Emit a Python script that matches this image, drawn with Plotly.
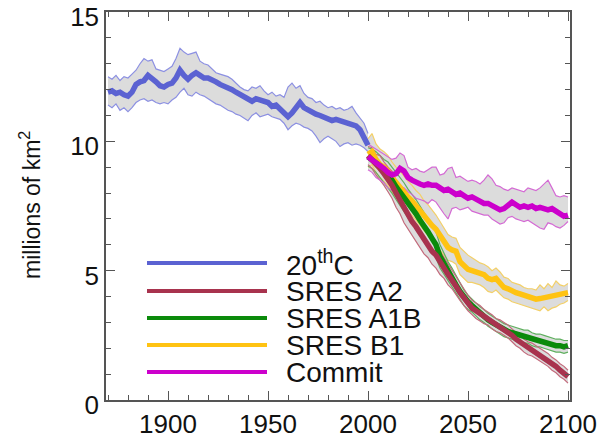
import plotly.graph_objects as go

# ---------------- data ----------------
years_20c = list(range(1870, 2001, 2))
mean_20c = [11.9, 11.95, 11.85, 11.9, 11.8, 11.75, 11.9, 12.2, 12.3, 12.35, 12.55, 12.45, 12.3, 12.15, 12.1,
            12.2, 12.25, 12.45, 12.75, 12.55, 12.4, 12.55, 12.65, 12.55, 12.45, 12.45, 12.4, 12.3, 12.2, 12.15,
            12.05, 12.0, 11.9, 11.8, 11.7, 11.6, 11.55, 11.65, 11.6, 11.55, 11.5, 11.35, 11.4, 11.25, 11.1,
            10.95, 11.1, 11.35, 11.5, 11.3, 11.2, 11.1, 11.05, 11.0, 10.95, 10.85, 10.8, 10.85, 10.8, 10.75,
            10.7, 10.65, 10.6, 10.45, 10.1, 9.85]
upper_20c = [12.5, 12.4, 12.55, 12.35, 12.5, 12.45, 12.6, 12.75, 13.0, 13.2, 13.1, 13.15, 12.8, 12.75, 12.7,
             12.8, 12.9, 13.2, 13.6, 13.45, 13.35, 13.4, 13.45, 13.1, 13.0, 12.95, 12.8, 12.65, 12.6, 12.55,
             12.5, 12.4, 12.25, 12.1, 12.0, 11.95, 12.1, 12.05, 12.15, 11.95, 11.8, 11.9, 11.75, 11.8, 11.7,
             12.1, 12.25, 12.05, 12.15, 11.85, 11.7, 11.65, 11.5, 11.55, 11.4, 11.3, 11.35, 11.25, 11.3, 11.2,
             11.25, 11.35, 11.1, 10.9, 10.7, 10.3]
lower_20c = [11.4, 11.3, 11.45, 11.2, 11.3, 11.15, 11.3, 11.5, 11.6, 11.65, 11.55, 11.6, 11.5, 11.45, 11.5,
             11.45, 11.6, 11.7, 11.9, 12.05, 11.8, 11.75, 11.9, 11.8, 11.75, 11.65, 11.55, 11.45, 11.4, 11.3,
             11.2, 11.15, 11.05, 11.0, 10.9, 10.8, 11.0, 11.1, 10.95, 11.0, 11.05, 10.95, 10.9, 10.85, 10.7,
             10.45, 10.6, 10.7, 10.65, 10.55, 10.5, 10.4, 10.2, 9.95, 10.1, 10.2, 10.1, 10.0, 9.8, 9.9,
             9.95, 9.85, 9.9, 9.85, 9.75, 9.6]

years_proj = list(range(2000, 2101, 2))

mean_a2 = [9.45, 9.3, 9.1, 8.95, 8.75, 8.55, 8.3, 8.0, 7.7, 7.4, 7.15, 6.9, 6.7, 6.45, 6.2, 6.0, 5.75, 5.6,
           5.3, 5.1, 4.85, 4.65, 4.4, 4.15, 3.95, 3.75, 3.55, 3.45, 3.35, 3.25, 3.15, 3.0, 2.9, 2.85, 2.75,
           2.65, 2.5, 2.35, 2.25, 2.1, 2.0, 1.95, 1.85, 1.75, 1.65, 1.55, 1.4, 1.3, 1.15, 1.05, 0.9]
upper_a2 = [9.8, 9.75, 9.5, 9.45, 9.2, 9.0, 8.85, 8.5, 8.3, 7.95, 7.7, 7.5, 7.3, 7.0, 6.7, 6.45, 6.3, 6.1,
            5.75, 5.5, 5.3, 5.0, 4.75, 4.5, 4.25, 4.05, 3.85, 3.75, 3.65, 3.5, 3.4, 3.3, 3.15, 3.1, 3.0,
            2.9, 2.75, 2.6, 2.55, 2.35, 2.25, 2.2, 2.1, 2.0, 1.9, 1.8, 1.65, 1.55, 1.4, 1.3, 1.15]
lower_a2 = [9.1, 8.95, 8.7, 8.5, 8.3, 8.05, 7.8, 7.45, 7.2, 6.85, 6.6, 6.35, 6.1, 5.9, 5.65, 5.5, 5.25, 5.1,
            4.85, 4.7, 4.45, 4.3, 4.05, 3.85, 3.65, 3.45, 3.3, 3.15, 3.05, 2.95, 2.9, 2.75, 2.65, 2.6, 2.5,
            2.4, 2.25, 2.1, 2.0, 1.85, 1.75, 1.7, 1.6, 1.5, 1.4, 1.3, 1.15, 1.05, 0.9, 0.8, 0.65]

mean_a1b = [9.4, 9.3, 9.2, 9.05, 8.85, 8.7, 8.5, 8.25, 8.05, 7.85, 7.6, 7.4, 7.2, 6.95, 6.75, 6.5, 6.25, 6.0,
            5.55, 5.25, 5.0, 4.75, 4.45, 4.2, 3.95, 3.8, 3.65, 3.5, 3.35, 3.25, 3.1, 3.0, 2.9, 2.8, 2.7,
            2.65, 2.6, 2.55, 2.5, 2.45, 2.45, 2.35, 2.3, 2.3, 2.25, 2.2, 2.15, 2.1, 2.1, 2.05, 2.1]
upper_a1b = [9.75, 9.7, 9.6, 9.45, 9.3, 9.2, 9.0, 8.8, 8.6, 8.4, 8.15, 7.95, 7.75, 7.5, 7.25, 7.0, 6.75, 6.5,
             6.0, 5.65, 5.35, 5.1, 4.8, 4.5, 4.25, 4.05, 3.9, 3.75, 3.6, 3.5, 3.35, 3.25, 3.15, 3.05, 2.95,
             2.9, 2.85, 2.8, 2.75, 2.7, 2.7, 2.6, 2.55, 2.55, 2.5, 2.45, 2.4, 2.35, 2.35, 2.3, 2.3]
lower_a1b = [9.05, 8.95, 8.8, 8.6, 8.4, 8.2, 8.0, 7.75, 7.5, 7.3, 7.05, 6.85, 6.65, 6.4, 6.2, 6.0, 5.75, 5.5,
             5.1, 4.85, 4.6, 4.4, 4.1, 3.9, 3.65, 3.5, 3.4, 3.25, 3.1, 3.0, 2.85, 2.75, 2.65, 2.55, 2.45,
             2.4, 2.35, 2.3, 2.25, 2.2, 2.2, 2.1, 2.05, 2.05, 2.0, 1.95, 1.9, 1.85, 1.85, 1.8, 1.85]

mean_b1 = [9.5, 9.6, 9.3, 9.1, 9.0, 8.85, 8.6, 8.4, 8.2, 8.0, 7.85, 7.7, 7.5, 7.3, 7.1, 6.95, 6.75, 6.6,
           6.35, 6.1, 5.9, 5.8, 5.75, 5.35, 5.2, 5.05, 5.0, 4.95, 4.9, 4.85, 4.7, 4.65, 4.7, 4.55, 4.35,
           4.3, 4.2, 4.15, 4.1, 4.05, 4.0, 3.95, 3.9, 3.92, 3.95, 4.0, 4.0, 4.05, 4.05, 4.1, 4.15]
upper_b1 = [10.1, 10.3, 9.9, 9.7, 9.6, 9.45, 9.2, 9.0, 8.85, 8.65, 8.45, 8.3, 8.1, 7.95, 7.7, 7.55, 7.35, 7.15,
            6.9, 6.65, 6.4, 6.3, 6.25, 5.9, 5.75, 5.6, 5.5, 5.4, 5.3, 5.25, 5.15, 5.0, 5.1, 4.95, 4.75,
            4.7, 4.55, 4.5, 4.45, 4.35, 4.3, 4.3, 4.25, 4.45, 4.3, 4.5, 4.35, 4.6, 4.45, 4.4, 4.5]
lower_b1 = [9.0, 9.1, 8.8, 8.6, 8.45, 8.3, 8.05, 7.85, 7.65, 7.45, 7.3, 7.15, 6.95, 6.75, 6.55, 6.35, 6.15, 6.0,
            5.8, 5.6, 5.4, 5.35, 5.25, 4.85, 4.7, 4.55, 4.55, 4.5, 4.45, 4.35, 4.2, 4.15, 4.25, 4.1, 3.95,
            3.9, 3.8, 3.75, 3.7, 3.65, 3.6, 3.55, 3.5, 3.45, 3.6, 3.45, 3.55, 3.6, 3.7, 3.75, 3.85]

mean_commit = [9.4, 9.3, 9.15, 9.05, 8.95, 8.8, 8.7, 8.75, 8.95, 8.85, 8.6, 8.5, 8.4, 8.35, 8.3, 8.35, 8.3,
               8.3, 8.2, 8.1, 8.15, 8.05, 7.95, 8.0, 7.9, 7.8, 7.85, 7.75, 7.65, 7.6, 7.6, 7.5, 7.45, 7.35,
               7.4, 7.55, 7.65, 7.55, 7.45, 7.5, 7.45, 7.5, 7.4, 7.45, 7.4, 7.35, 7.4, 7.3, 7.2, 7.1, 7.15]
upper_commit = [9.9, 9.8, 9.7, 9.6, 9.5, 9.4, 9.3, 9.35, 9.55, 9.45, 9.0, 8.9, 8.95, 8.85, 8.8, 8.9, 9.0,
                9.0, 8.7, 8.75, 8.95, 9.0, 8.6, 8.65, 8.55, 8.45, 8.5, 8.45, 8.35, 8.5, 8.7, 8.55, 8.3, 8.25,
                8.15, 8.1, 8.2, 8.15, 8.1, 8.05, 8.2, 8.15, 8.1, 8.2, 8.35, 8.5, 8.2, 7.9, 7.85, 7.9, 7.85]
lower_commit = [8.9, 8.8, 8.6, 8.5, 8.4, 8.2, 8.1, 8.1, 8.25, 8.2, 8.05, 7.95, 7.8, 7.75, 7.7, 7.6, 7.75,
                7.65, 7.4, 7.2, 7.0, 7.4, 7.45, 7.35, 7.4, 7.45, 7.3, 7.25, 7.2, 7.15, 7.15, 7.0, 6.9, 6.8,
                6.85, 7.05, 7.1, 7.0, 6.95, 6.9, 6.95, 6.85, 6.75, 6.65, 6.6, 6.85, 6.8, 6.7, 6.65, 6.75, 6.9]

labels = ["20<sup>th</sup>C", "SRES A2", "SRES A1B", "SRES B1", "Commit"]
y_title = "millions of km<sup>2</sup>"
x_ticks = [1900, 1950, 2000, 2050, 2100]
y_ticks = [0, 5, 10, 15]

# ---------------- styling ----------------
FONT = "Liberation Sans, Arial, Helvetica, sans-serif"
FILL = "#dcdcdc"
series = [
    (0, years_20c, mean_20c, upper_20c, lower_20c, "#5b62d2", "#8c90e2"),
    (3, years_proj, mean_b1, upper_b1, lower_b1, "#ffc312", "#f3d068"),
    (2, years_proj, mean_a1b, upper_a1b, lower_a1b, "#0b8a0b", "#5fb05f"),
    (1, years_proj, mean_a2, upper_a2, lower_a2, "#a8334e", "#c36a7c"),
    (4, years_proj, mean_commit, upper_commit, lower_commit, "#cc00cc", "#d46ad4"),
]
legend_colors = ["#5b62d2", "#a8334e", "#0b8a0b", "#ffc312", "#cc00cc"]

fig = go.Figure()

for _, yrs, m, up, lo, c, tc in series:
    fig.add_trace(go.Scatter(x=list(yrs) + list(yrs)[::-1], y=list(up) + list(lo)[::-1],
                             fill="toself", fillcolor=FILL, line=dict(width=0),
                             mode="lines", hoverinfo="skip", showlegend=False))
for _, yrs, m, up, lo, c, tc in series:
    for arr in (up, lo):
        fig.add_trace(go.Scatter(x=yrs, y=arr, mode="lines",
                                 line=dict(color=tc, width=1.2), showlegend=False))
for i, yrs, m, up, lo, c, tc in series:
    fig.add_trace(go.Scatter(x=yrs, y=m, mode="lines", name=labels[i],
                             line=dict(color=c, width=5.5), showlegend=False))

# plot area in page pixels: x 106..570, y 12..400
ax0, ay0, pw, ph = 106, 12, 464, 388
leg_y = [263, 291, 318, 345, 372]
for k, lab in enumerate(labels):
    yp = (ay0 + ph - leg_y[k]) / ph
    fig.add_shape(type="line", xref="paper", yref="paper",
                  x0=(147 - ax0) / pw, x1=(267 - ax0) / pw, y0=yp, y1=yp,
                  line=dict(color=legend_colors[k], width=4))
    fig.add_annotation(xref="paper", yref="paper", x=(284 - ax0) / pw, y=yp,
                       text=lab, showarrow=False, xanchor="left", yanchor="middle",
                       font=dict(family=FONT, size=28, color="#111"))

# y-axis title placed as rotated text
fig.add_annotation(xref="paper", yref="paper", x=(30 - ax0) / pw, y=(ay0 + ph - 205) / ph,
                   text=y_title, textangle=-90, showarrow=False,
                   xanchor="center", yanchor="middle",
                   font=dict(family=FONT, size=23, color="#111"))

axis_common = dict(showline=True, linecolor="#555", linewidth=1.5, mirror="ticks",
                   ticks="inside", ticklen=9, tickwidth=1.2, tickcolor="#555",
                   showgrid=False, zeroline=False, automargin=False,
                   ticklabeloverflow="allow",
                   tickfont=dict(family=FONT, size=26, color="#111"))

fig.update_layout(
    width=607, height=438,
    margin=dict(l=106, r=37, t=12, b=38),
    paper_bgcolor="white", plot_bgcolor="white",
    xaxis=dict(range=[1869, 2101], tickvals=x_ticks,
               minor=dict(ticks="inside", ticklen=5, dtick=10, tick0=1900, tickcolor="#555", showgrid=False),
               **axis_common),
    yaxis=dict(range=[0, 15], tickvals=y_ticks, ticklabelshift=5,
               minor=dict(ticks="inside", ticklen=5, dtick=1, tick0=0, tickcolor="#555", showgrid=False),
               **axis_common),
)

fig.write_html("out.html", config={"displayModeBar": False},
               post_script="document.body.style.margin='0';document.body.style.overflow='hidden';")
